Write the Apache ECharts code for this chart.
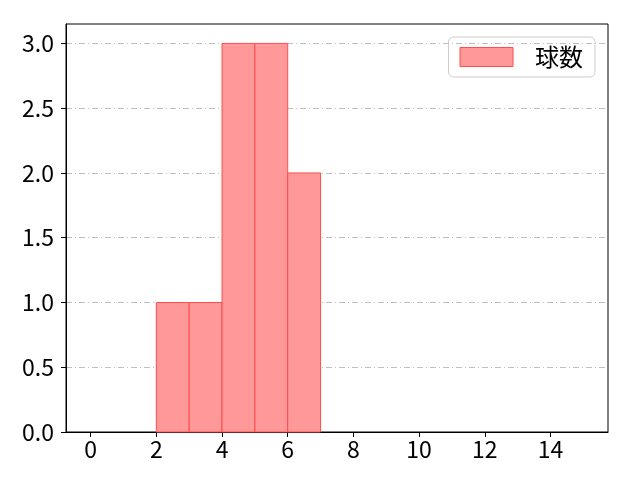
<!DOCTYPE html>
<html><head><meta charset="utf-8">
<script src="https://cdn.jsdelivr.net/npm/echarts@6/dist/echarts.min.js"></script>
<style>html,body{margin:0;padding:0;background:#fff}#c{width:640px;height:480px}</style>
</head><body><div id="c"></div>
<script>
const binStarts = [2, 3, 4, 5, 6];
const binEnds = [3, 4, 5, 6, 7];
const counts = [1, 1, 3, 3, 2];
const xTicks = [0, 2, 4, 6, 8, 10, 12, 14];
const yTicks = [0, 0.5, 1.0, 1.5, 2.0, 2.5, 3.0];
const seriesName = '球数';

const data = binStarts.map((s, i) => [s, binEnds[i], counts[i]]);
const font = '"Noto Sans CJK JP", "DejaVu Sans", sans-serif';
const chart = echarts.init(document.getElementById('c'));
chart.setOption({
  animation: false,
  grid: {left: 66, right: 32, top: 24, bottom: 48, show: true, borderColor: '#000', borderWidth: 1},
  legend: {
    right: 45, top: 37, orient: 'vertical',
    itemWidth: 53, itemHeight: 19, itemGap: 10,
    padding: [8, 12, 8, 11],
    borderColor: '#cccccc', borderWidth: 1, borderRadius: 5,
    textStyle: {fontFamily: font, fontSize: 24, color: '#000', padding: [0, 0, 0, 17]},
    data: [{name: seriesName, icon: 'rect', itemStyle: {color: '#ff9999', borderColor: '#ff4d4d', borderWidth: 1}}]
  },
  xAxis: {
    type: 'value', min: -0.75, max: 15.75,
    axisLine: {show: true, onZero: false, lineStyle: {color: '#000'}},
    axisTick: {show: true, length: 5, customValues: xTicks, lineStyle: {color: '#000'}},
    axisLabel: {customValues: xTicks, fontFamily: font, fontSize: 23, color: '#000', margin: 6},
    splitLine: {show: false}
  },
  yAxis: {
    type: 'value', min: 0, max: 3.15, interval: 0.5,
    axisLine: {show: true, onZero: false, lineStyle: {color: '#000'}},
    axisTick: {show: true, length: 5, customValues: yTicks, lineStyle: {color: '#000'}},
    axisLabel: {customValues: yTicks, fontFamily: font, fontSize: 23, color: '#000', margin: 12,
      formatter: v => v.toFixed(1)},
    splitLine: {show: true, lineStyle: {color: '#b0b0b0', width: 0.8, type: [6, 3, 1, 3]}}
  },
  series: [{
    name: seriesName, type: 'custom', data: data,
    encode: {x: [0, 1], y: 2},
    renderItem: function (params, api) {
      const p0 = api.coord([api.value(0), api.value(2)]);
      const p1 = api.coord([api.value(1), 0]);
      return {
        type: 'rect',
        shape: {x: p0[0], y: p0[1], width: p1[0] - p0[0], height: p1[1] - p0[1]},
        style: {fill: '#ff9999', stroke: '#ff4d4d', lineWidth: 1}
      };
    }
  }]
});
</script></body></html>
